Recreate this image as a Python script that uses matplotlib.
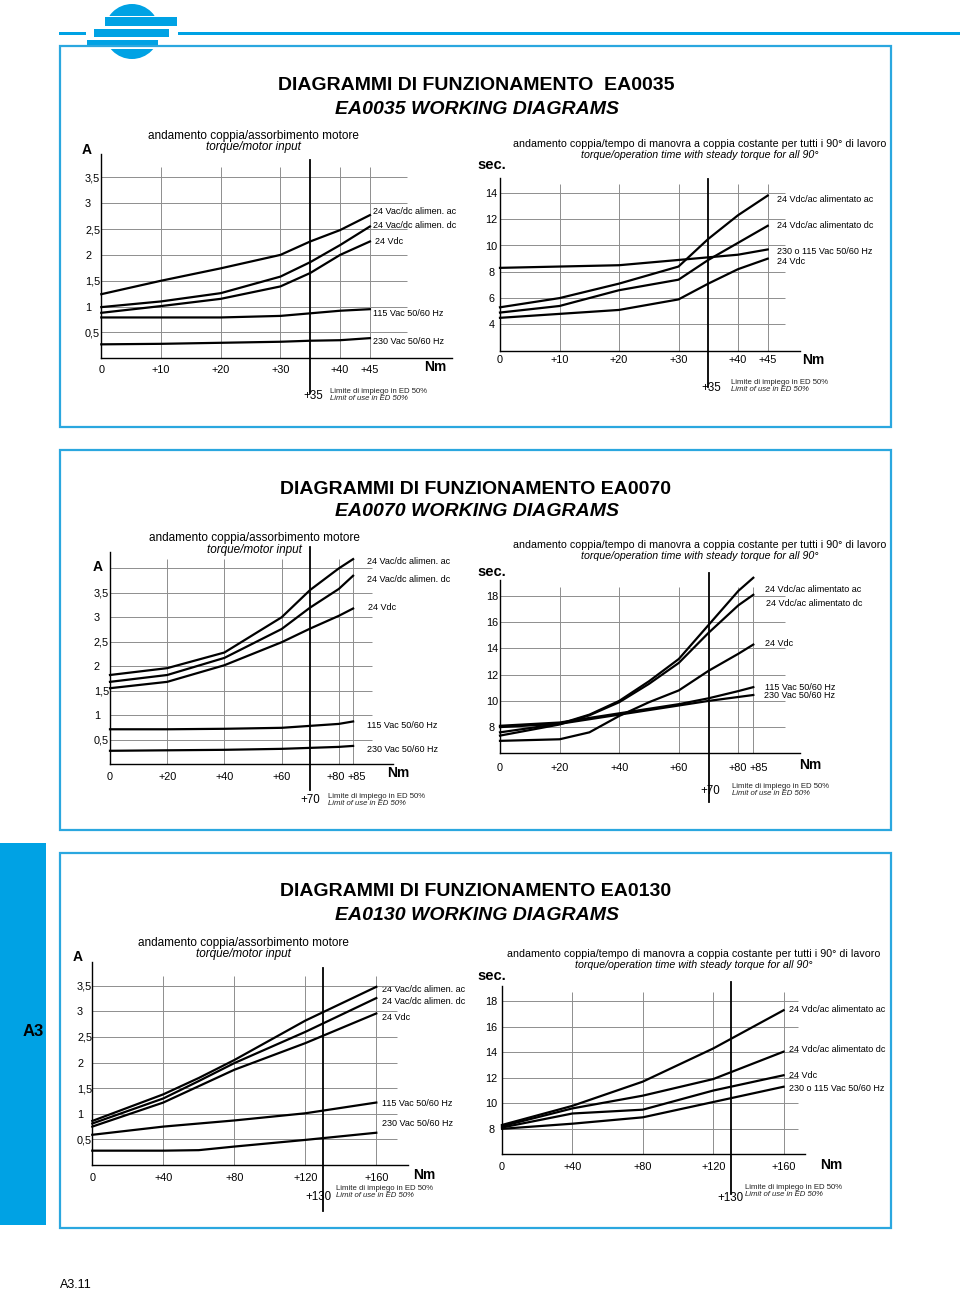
import matplotlib
matplotlib.use('Agg')
import matplotlib.pyplot as plt
from matplotlib.patches import Rectangle, Circle
from matplotlib.transforms import offset_copy

W, H = 960, 1292
plt.rcParams['font.family'] = ['Liberation Sans', 'DejaVu Sans']

BLUE = '#00a2e4'
FRAME = '#2ba7df'
GRID = '#8e8e8e'

# ---------------- data ----------------
# EA0035 - torque / motor input (A)
ea35_nm = [0, 10, 20, 30, 35, 40, 45]
ea35_amp_ac = [1.24, 1.50, 1.74, 2.00, 2.26, 2.48, 2.77]
ea35_amp_dc = [0.99, 1.10, 1.26, 1.58, 1.86, 2.19, 2.55]
ea35_amp_24vdc = [0.88, 1.01, 1.15, 1.39, 1.65, 2.00, 2.26]
ea35_amp_115 = [0.79, 0.79, 0.79, 0.82, 0.87, 0.92, 0.95]
ea35_amp_230 = [0.27, 0.28, 0.30, 0.32, 0.34, 0.35, 0.39]
# EA0035 - torque / operation time (sec.)
ea35_sec_ac = [5.3, 6.0, 7.1, 8.4, 10.5, 12.3, 13.8]
ea35_sec_dc = [4.9, 5.4, 6.6, 7.4, 8.9, 10.2, 11.5]
ea35_sec_vac = [8.3, 8.4, 8.5, 8.9, 9.1, 9.3, 9.7]
ea35_sec_24vdc = [4.5, 4.8, 5.1, 5.9, 7.1, 8.2, 9.0]

# EA0070
ea70_nm_amp = [0, 20, 40, 60, 70, 80, 85]
ea70_amp_ac = [1.82, 1.96, 2.28, 3.00, 3.56, 4.00, 4.19]
ea70_amp_dc = [1.68, 1.82, 2.17, 2.76, 3.20, 3.58, 3.85]
ea70_amp_24vdc = [1.55, 1.68, 2.02, 2.49, 2.77, 3.03, 3.18]
ea70_amp_115 = [0.71, 0.71, 0.72, 0.74, 0.78, 0.82, 0.87]
ea70_amp_230 = [0.27, 0.28, 0.29, 0.31, 0.33, 0.35, 0.37]
ea70_nm_sec = [0, 20, 30, 40, 50, 60, 70, 80, 85]
ea70_sec_ac = [7.6, 8.25, 8.95, 10.0, 11.5, 13.2, 15.8, 18.4, 19.4]
ea70_sec_dc = [7.35, 8.2, 8.9, 9.9, 11.3, 12.9, 15.2, 17.3, 18.1]
ea70_sec_24vdc = [6.95, 7.07, 7.6, 8.85, 9.9, 10.8, 12.3, 13.6, 14.3]
ea70_sec_115 = [8.1, 8.35, 8.7, 9.05, 9.4, 9.75, 10.2, 10.75, 11.05]
ea70_sec_230 = [8.0, 8.25, 8.6, 8.95, 9.3, 9.65, 10.0, 10.3, 10.45]

# EA0130
ea130_nm_amp = [0, 40, 60, 80, 120, 160]
ea130_amp_ac = [0.86, 1.38, 1.70, 2.05, 2.82, 3.48]
ea130_amp_dc = [0.81, 1.30, 1.64, 1.99, 2.60, 3.26]
ea130_amp_24vdc = [0.75, 1.22, 1.54, 1.86, 2.38, 2.96]
ea130_amp_115 = [0.59, 0.75, 0.81, 0.87, 1.01, 1.22]
ea130_amp_230 = [0.28, 0.28, 0.29, 0.36, 0.49, 0.63]
ea130_nm_sec = [0, 40, 80, 120, 160]
ea130_sec_ac = [8.3, 9.8, 11.7, 14.3, 17.3]
ea130_sec_dc = [8.2, 9.6, 10.6, 11.9, 14.05]
ea130_sec_24vdc = [8.1, 9.2, 9.5, 11.0, 12.2]
ea130_sec_vac = [8.0, 8.4, 8.9, 10.1, 11.3]

amp_ticks = [0.5, 1, 1.5, 2, 2.5, 3, 3.5]
amp_labels = ['0,5', '1', '1,5', '2', '2,5', '3', '3,5']

fig = plt.figure(figsize=(W / 100, H / 100), dpi=100)
bg = fig.add_axes([0, 0, 1, 1])
bg.set_xlim(0, W)
bg.set_ylim(H, 0)
bg.axis('off')


def make_axes(x0, xs, yb, ybv, ys, xlim, ylim):
    # x0/xs: pixel of Nm=0 and px per Nm; yb/ybv/ys: baseline pixel, its value, px per unit
    left = x0 + xlim[0] * xs
    right = x0 + xlim[1] * xs
    top = yb - (ylim[1] - ybv) * ys
    bottom = yb - (ylim[0] - ybv) * ys
    ax = fig.add_axes([left / W, 1 - bottom / H, (right - left) / W, (bottom - top) / H])
    ax.set_xlim(*xlim)
    ax.set_ylim(*ylim)
    ax.patch.set_alpha(0)
    ax.spines['top'].set_visible(False)
    ax.spines['right'].set_visible(False)
    ax.spines['left'].set_linewidth(1.0)
    ax.spines['bottom'].set_linewidth(1.0)
    return ax


def setup(ax, xticks, xlabels, yticks, ylabels, gx, gy, gx_end, gy_end,
          xpad, ypad, yalign, xshift=None):
    ax.set_xticks(xticks, xlabels)
    ax.set_yticks(yticks, ylabels)
    ax.tick_params(length=0, labelsize=7.8)
    ax.tick_params(axis='x', pad=xpad * 0.72)
    ax.tick_params(axis='y', pad=ypad * 0.72)
    for t in ax.get_xticklabels():
        t.set_va('center')
    for t in ax.get_yticklabels():
        t.set_ha(yalign)
    # the drawing spaces the last two ticks a bit wider than their values
    if xshift:
        for t, v in zip(ax.get_xticklabels(), xticks):
            if v in xshift:
                t.set_transform(offset_copy(t.get_transform(), fig=fig,
                                            x=xshift[v], y=0, units='dots'))
    x0, y0 = ax.get_xlim()[0], ax.get_ylim()[0]
    ax.hlines(gy, x0, gx_end, colors=GRID, lw=0.7)
    ax.vlines(gx, y0, gy_end, colors=GRID, lw=0.7)


def curves(ax, x, series, limit, lim_lo, lim_hi):
    for y in series:
        ax.plot(x, y, color='black', lw=1.6, solid_joinstyle='round', clip_on=False)
    ax.plot([limit, limit], [lim_lo, lim_hi], color='black', lw=1.3, clip_on=False)


def txt(x, y, s, size=6.5, **kw):
    kw.setdefault('ha', 'left')
    kw.setdefault('va', 'center')
    bg.text(x, y, s, fontsize=size, **kw)


# ---------------- page decoration ----------------
bg.add_patch(Rectangle((59, 32), 27, 3, color=BLUE, lw=0))
bg.add_patch(Rectangle((178, 32), 782, 3, color=BLUE, lw=0))
bg.add_patch(Circle((132, 31.5), 27.5, color=BLUE, lw=0))
for yy, hh in [(16, 1.4), (26, 3.3), (37.3, 2.7), (47.3, 2)]:
    bg.add_patch(Rectangle((85, yy), 95, hh, color='white', lw=0))
bg.add_patch(Rectangle((105, 17.4), 72, 8.6, color=BLUE, lw=0))
bg.add_patch(Rectangle((94, 29.3), 75, 8, color=BLUE, lw=0))
bg.add_patch(Rectangle((87, 40), 71, 7.3, color=BLUE, lw=0))

for top, bot in [(46, 427), (450, 830), (853, 1228)]:
    bg.add_patch(Rectangle((60, top), 831, bot - top, fill=False, ec=FRAME, lw=1.6))

bg.add_patch(Rectangle((0, 843), 46, 382, color=BLUE, lw=0))
txt(33, 1032, 'A3', size=12, weight='bold', ha='center')
txt(60, 1285, 'A3.11', size=9)

titles = [('DIAGRAMMI DI FUNZIONAMENTO  EA0035', 'EA0035 WORKING DIAGRAMS', 86),
          ('DIAGRAMMI DI FUNZIONAMENTO EA0070', 'EA0070 WORKING DIAGRAMS', 489),
          ('DIAGRAMMI DI FUNZIONAMENTO EA0130', 'EA0130 WORKING DIAGRAMS', 892)]
for t1, t2, ty in titles:
    txt(476, ty, t1, size=14, weight='bold', ha='center')
    txt(477, ty + 23, t2, size=14, weight='bold', style='italic', ha='center')

sub_l = ('andamento coppia/assorbimento motore', 'torque/motor input')
sub_r = ('andamento coppia/tempo di manovra a coppia costante per tutti i 90° di lavoro',
         'torque/operation time with steady torque for all 90°')


def subtitles(cx, y, pair, size):
    txt(cx, y, pair[0], size=size, ha='center')
    txt(cx, y + 11, pair[1], size=size, style='italic', ha='center')


def limit_note(cx, y, value, lx, ly):
    txt(cx, y, value, size=8.3, ha='center')
    txt(lx, ly, 'Limite di impiego in ED 50%', size=5.6, color='#222222')
    txt(lx, ly + 7, 'Limit of use in ED 50%', size=5.6, style='italic', color='#222222')


# ---------------- EA0035 ----------------
ax = make_axes(101.3, 5.97, 358.3, 0, 51.7, (0, 58.7), (0, 3.95))
setup(ax, [0, 10, 20, 30, 40, 45], ['0', '+10', '+20', '+30', '+40', '+45'],
      amp_ticks, amp_labels, [10, 20, 30, 40, 45], amp_ticks, 51.2, 3.7, 11.7, 16.3, 'left')
curves(ax, ea35_nm, [ea35_amp_ac, ea35_amp_dc, ea35_amp_24vdc, ea35_amp_115, ea35_amp_230],
       35, -0.67, 3.83)
subtitles(253, 136, sub_l, 8.5)
txt(87, 150, 'A', size=10, weight='bold', ha='center')
txt(435, 367, 'Nm', size=10, weight='bold', ha='center')
txt(373, 212, '24 Vac/dc alimen. ac')
txt(373, 226, '24 Vac/dc alimen. dc')
txt(375, 242, '24 Vdc')
txt(373, 313, '115 Vac 50/60 Hz')
txt(373, 342, '230 Vac 50/60 Hz')
limit_note(313, 396, '+35', 330, 391.5)

ax = make_axes(500, 5.95, 350.7, 2, 13.15, (0, 50.4), (2, 15.1))
setup(ax, [0, 10, 20, 30, 40, 45], ['0', '+10', '+20', '+30', '+40', '+45'],
      [4, 6, 8, 10, 12, 14], ['4', '6', '8', '10', '12', '14'],
      [10, 20, 30, 40, 45], [4, 6, 8, 10, 12, 14], 47.9, 14.7, 9.3, 8.5, 'center')
curves(ax, ea35_nm, [ea35_sec_ac, ea35_sec_dc, ea35_sec_vac, ea35_sec_24vdc], 35, -0.74, 15.05)
subtitles(700, 144, sub_r, 7.7)
txt(492, 165, 'sec.', size=10.5, weight='bold', ha='center')
txt(813, 360, 'Nm', size=10, weight='bold', ha='center')
txt(777, 200, '24 Vdc/ac alimentato ac')
txt(777, 226, '24 Vdc/ac alimentato dc')
txt(777, 251.5, '230 o 115 Vac 50/60 Hz')
txt(777, 261, '24 Vdc')
limit_note(711, 388, '+35', 731, 382.5)

# ---------------- EA0070 ----------------
ax = make_axes(110, 2.86, 764, 0, 48.9, (0, 99), (0, 4.34))
setup(ax, [0, 20, 40, 60, 80, 85], ['0', '+20', '+40', '+60', '+80', '+85'],
      amp_ticks, amp_labels, [20, 40, 60, 80, 85], amp_ticks + [4], 91.5, 4.2, 12.7, 16, 'left',
      xshift={80: -3, 85: 4})
curves(ax, ea70_nm_amp, [ea70_amp_ac, ea70_amp_dc, ea70_amp_24vdc, ea70_amp_115, ea70_amp_230],
       70, -0.53, 4.44)
subtitles(254, 538.5, sub_l, 8.5)
txt(97.5, 567, 'A', size=10, weight='bold', ha='center')
txt(398, 773, 'Nm', size=10, weight='bold', ha='center')
txt(367, 562, '24 Vac/dc alimen. ac')
txt(367, 579, '24 Vac/dc alimen. dc')
txt(368, 608, '24 Vdc')
txt(367, 726, '115 Vac 50/60 Hz')
txt(367, 749, '230 Vac 50/60 Hz')
limit_note(310.5, 800, '+70', 328, 796.5)

ax = make_axes(500, 2.98, 753.3, 6, 13.1, (0, 100.7), (6, 19.2))
setup(ax, [0, 20, 40, 60, 80, 85], ['0', '+20', '+40', '+60', '+80', '+85'],
      [8, 10, 12, 14, 16, 18], ['8', '10', '12', '14', '16', '18'],
      [20, 40, 60, 80, 85], [8, 10, 12, 14, 16, 18], 95.6, 18.7, 15, 8, 'center',
      xshift={80: -1, 85: 5})
curves(ax, ea70_nm_sec, [ea70_sec_ac, ea70_sec_dc, ea70_sec_24vdc, ea70_sec_115, ea70_sec_230],
       70, 2.31, 19.76)
subtitles(700, 545, sub_r, 7.7)
txt(492, 571.5, 'sec.', size=10.5, weight='bold', ha='center')
txt(810, 765, 'Nm', size=10, weight='bold', ha='center')
txt(765, 589, '24 Vdc/ac alimentato ac')
txt(766.5, 603, '24 Vdc/ac alimentato dc')
txt(765, 644, '24 Vdc')
txt(765, 687, '115 Vac 50/60 Hz')
txt(763.5, 696, '230 Vac 50/60 Hz')
limit_note(710.5, 790.5, '+70', 731.5, 786.5)

# ---------------- EA0130 ----------------
ax = make_axes(92.3, 1.775, 1165, 0, 51.2, (0, 178), (0, 3.97))
setup(ax, [0, 40, 80, 120, 160], ['0', '+40', '+80', '+120', '+160'],
      amp_ticks, amp_labels, [40, 80, 120, 160], amp_ticks, 171.8, 3.69, 13.3, 15.3, 'left')
curves(ax, ea130_nm_amp, [ea130_amp_ac, ea130_amp_dc, ea130_amp_24vdc, ea130_amp_115,
                          ea130_amp_230], 130, -0.89, 3.84)
subtitles(243, 943, sub_l, 8.5)
txt(77.5, 957, 'A', size=10, weight='bold', ha='center')
txt(424, 1175, 'Nm', size=10, weight='bold', ha='center')
txt(381.5, 990, '24 Vac/dc alimen. ac')
txt(381.5, 1001, '24 Vac/dc alimen. dc')
txt(381.5, 1017, '24 Vdc')
txt(381.5, 1103, '115 Vac 50/60 Hz')
txt(382.5, 1124, '230 Vac 50/60 Hz')
limit_note(318, 1197, '+130', 336, 1188.5)

ax = make_axes(502, 1.76, 1154.3, 6, 12.75, (0, 172), (6, 19.2))
setup(ax, [0, 40, 80, 120, 160], ['0', '+40', '+80', '+120', '+160'],
      [8, 10, 12, 14, 16, 18], ['8', '10', '12', '14', '16', '18'],
      [40, 80, 120, 160], [8, 10, 12, 14, 16, 18], 168, 18.7, 12.4, 10.5, 'center')
curves(ax, ea130_nm_sec, [ea130_sec_ac, ea130_sec_dc, ea130_sec_24vdc, ea130_sec_vac],
       130, 2.9, 19.5)
subtitles(694, 954, sub_r, 7.7)
txt(492, 976, 'sec.', size=10.5, weight='bold', ha='center')
txt(831, 1165, 'Nm', size=10, weight='bold', ha='center')
txt(789, 1010, '24 Vdc/ac alimentato ac')
txt(789, 1050, '24 Vdc/ac alimentato dc')
txt(789, 1075, '24 Vdc')
txt(789, 1088.5, '230 o 115 Vac 50/60 Hz')
limit_note(730.5, 1198, '+130', 745, 1187.5)

fig.savefig('out.png', dpi=100)
